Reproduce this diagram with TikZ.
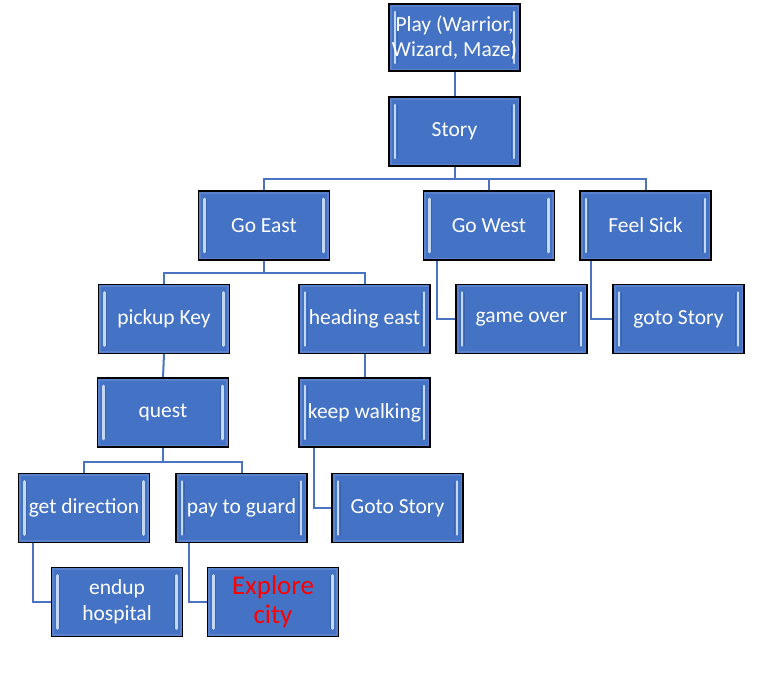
\documentclass[tikz,border=0pt]{standalone}
\usepackage{fontspec}
\setmainfont{Carlito}
\usetikzlibrary{backgrounds}
\definecolor{boxblue}{HTML}{4472C4}
\definecolor{bandblue}{HTML}{5A82CC}
\definecolor{hlblue}{HTML}{C5D8F2}
\definecolor{shblue}{HTML}{3A63AE}
\definecolor{linkblue}{HTML}{4A74C2}
\newcommand\boxfont{\fontsize{21.5}{25.6}\selectfont}
\newcommand\bigboxfont{\fontsize{27}{29}\selectfont}
\tikzset{
  box/.style={draw=black, line width=1.3pt, fill=boxblue, minimum width=131pt,
    minimum height=69pt, inner sep=0pt, text=white, align=center, font=\boxfont,
    path picture={
      \draw[bandblue, line width=5pt] (path picture bounding box.north west) rectangle (path picture bounding box.south east);
      \draw[shblue, line width=1.2pt]
        ([xshift=8.2pt,yshift=-8pt]path picture bounding box.north west) -- ([xshift=8.2pt,yshift=8pt]path picture bounding box.south west);
      \draw[shblue, line width=1.2pt]
        ([xshift=-8.2pt,yshift=-8pt]path picture bounding box.north east) -- ([xshift=-8.2pt,yshift=8pt]path picture bounding box.south east);
      \draw[hlblue, line width=2.6pt, line cap=round]
        ([xshift=6pt,yshift=-8pt]path picture bounding box.north west) -- ([xshift=6pt,yshift=8pt]path picture bounding box.south west);
      \draw[hlblue, line width=2.6pt, line cap=round]
        ([xshift=-6pt,yshift=-8pt]path picture bounding box.north east) -- ([xshift=-6pt,yshift=8pt]path picture bounding box.south east);
    }},
  link/.style={draw=linkblue, line width=2pt}
}
\begin{document}
\begin{tikzpicture}[x=1pt, y=-1pt]
\useasboundingbox (0,0) rectangle (770,688);
\node[box, minimum height=67pt] (play) at (454.5,37.5) {Play (Warrior,\\Wizard, Maze)};
\node[box] (story) at (454.5,131.5) {Story};
\node[box] (goeast) at (264,225.5) {Go East};
\node[box] (gowest) at (489,225.5) {Go West};
\node[box] (feelsick) at (645.5,225.5) {Feel Sick};
\node[box] (pickup) at (164,319) {pickup Key};
\node[box] (heading) at (364.5,319) {heading east};
\node[box] (gameover) at (521.5,319) {game over};
\node[box] (gotostory) at (678.5,319) {goto Story};
\node[box] (quest) at (163,412.5) {quest};
\node[box] (keepwalk) at (364.5,412.5) {keep walking};
\node[box] (getdir) at (84,508) {get direction};
\node[box] (pay) at (241.5,508) {pay to guard};
\node[box] (gotostory2) at (397.5,508) {Goto Story};
\node[box] (endup) at (117,602) {endup\\hospital};
\node[box, text=red, font=\bigboxfont] (explore) at (273,602) {Explore\\city};
\begin{scope}[on background layer]
\draw[link] (play.south) -- (story.north);
\draw[link] (story.south) -- ++(0,12) -| (goeast.north);
\draw[link] (story.south) -- ++(0,12) -| (gowest.north);
\draw[link] (story.south) -- ++(0,12) -| (feelsick.north);
\draw[link] (goeast.south) -- ++(0,12) -| (pickup.north);
\draw[link] (goeast.south) -- ++(0,12) -| (heading.north);
\draw[link] ([xshift=14pt]gowest.south west) |- (gameover.west);
\draw[link] ([xshift=12pt]feelsick.south west) |- (gotostory.west);
\draw[link] (pickup.south) -- (quest.north);
\draw[link] (heading.south) -- (keepwalk.north);
\draw[link] (quest.south) -- ++(0,14) -| (getdir.north);
\draw[link] (quest.south) -- ++(0,14) -| (pay.north);
\draw[link] ([xshift=16pt]keepwalk.south west) |- (gotostory2.west);
\draw[link] ([xshift=15pt]getdir.south west) |- (endup.west);
\draw[link] ([xshift=14pt]pay.south west) |- (explore.west);
\end{scope}
\end{tikzpicture}
\end{document}
